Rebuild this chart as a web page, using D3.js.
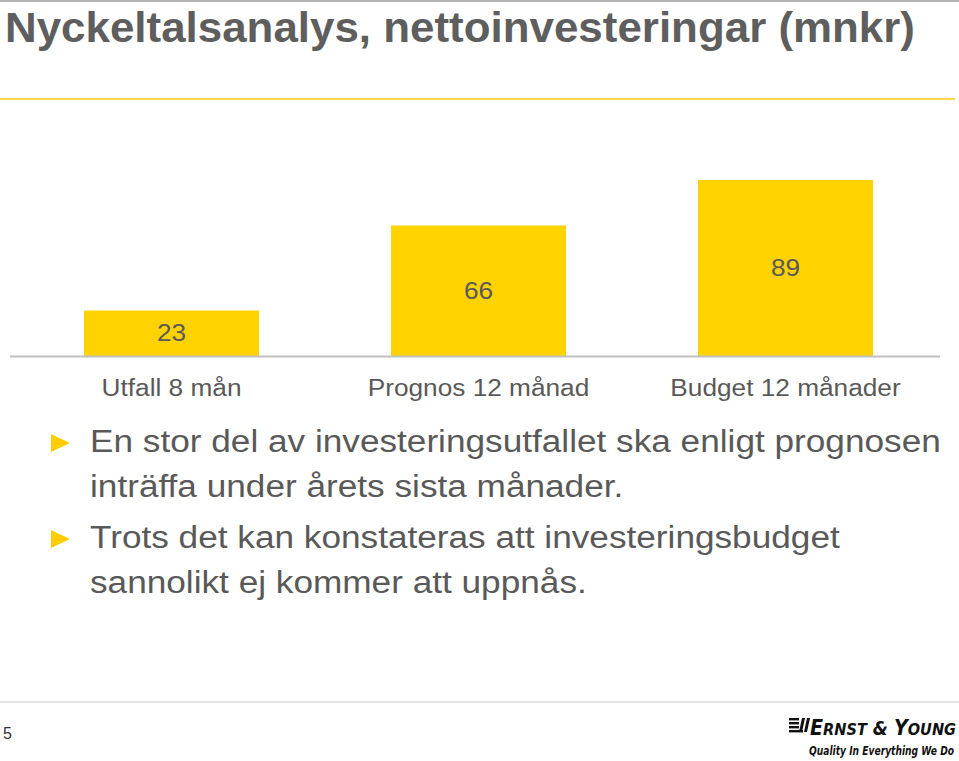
<!DOCTYPE html>
<html>
<head>
<meta charset="utf-8">
<script src="https://cdn.jsdelivr.net/npm/d3@7"></script>
<style>
  body { margin: 0; background: #fff; }
  svg { display: block; font-family: 'Liberation Sans', Arial, sans-serif; }
</style>
</head>
<body>
<svg id="chart"></svg>
<script>
const categories = ['Utfall 8 mån', 'Prognos 12 månad', 'Budget 12 månader']
const values = [23, 66, 89]
const title = 'Nyckeltalsanalys, nettoinvesteringar (mnkr)'
const bullets = [
  ['En stor del av investeringsutfallet ska enligt prognosen', 'inträffa under årets sista månader.'],
  ['Trots det kan konstateras att investeringsbudget', 'sannolikt ej kommer att uppnås.']
]
const pageNumber = '5'

const width = 959
const height = 761
const grey = '#595959'
const yellow = '#FFD200'
// the slide text is a little wider than the font's natural width
const widen = 1.14

const svg = d3.select('#chart').attr('width', width).attr('height', height)

const stretch = (sel, k) => sel.each(function () {
  const w = this.getComputedTextLength()
  d3.select(this).attr('textLength', w * k).attr('lengthAdjust', 'spacingAndGlyphs')
})

// header
svg.append('line')
  .attr('x1', 0).attr('x2', width).attr('y1', 1).attr('y2', 1)
  .attr('stroke', '#9a9a9a').attr('stroke-width', 1.5)
svg.append('text')
  .attr('x', 5).attr('y', 42)
  .attr('font-weight', 'bold')
  .attr('font-size', 42)
  .attr('textLength', 910)
  .attr('lengthAdjust', 'spacingAndGlyphs')
  .attr('fill', '#5e5e5e')
  .text(title)
svg.append('line')
  .attr('x1', 0).attr('x2', 955).attr('y1', 99).attr('y2', 99)
  .attr('stroke', '#FFD84A').attr('stroke-width', 2)

// bars
const x = d3.scaleBand()
  .domain(categories)
  .range([18, 939])
  .paddingInner(0.43)
  .paddingOuter(0.215)
const y = d3.scaleLinear().domain([0, 89]).range([356, 180])

const g = svg.append('g')
g.selectAll('.bar')
  .data(values)
  .enter()
  .append('rect')
  .attr('class', 'bar')
  .attr('x', (d, i) => x(categories[i]))
  .attr('width', x.bandwidth())
  .attr('y', d => y(d))
  .attr('height', d => y(0) - y(d))
  .attr('fill', yellow)
g.selectAll('.val')
  .data(values)
  .enter()
  .append('text')
  .attr('class', 'val')
  .attr('x', (d, i) => x(categories[i]) + x.bandwidth() / 2)
  .attr('y', d => (y(d) + y(0)) / 2)
  .attr('dy', '0.35em')
  .attr('text-anchor', 'middle')
  .attr('font-size', 23)
  .attr('fill', grey)
  .text(d => d)
  .call(stretch, widen)

const axis = g.append('g')
  .attr('transform', `translate(0,${y(0)})`)
  .call(d3.axisBottom(x).tickSize(0).tickPadding(24))
axis.select('.domain')
  .attr('d', 'M10,0.5H940')
  .attr('stroke', '#bfbfbf')
  .attr('stroke-width', 2)
axis.selectAll('text')
  .attr('font-size', 23)
  .attr('font-family', "'Liberation Sans', Arial, sans-serif")
  .attr('fill', grey)
  .call(stretch, widen)

// bullets
const lineH = 45
let by = 452
bullets.forEach(lines => {
  svg.append('path')
    .attr('d', `M51,${by - 18}L70,${by - 9}L51,${by}Z`)
    .attr('fill', '#FFCC00')
  lines.forEach(t => {
    svg.append('text')
      .attr('x', 90).attr('y', by)
      .attr('font-size', 31)
      .attr('fill', grey)
      .text(t)
      .call(stretch, 1.135)
    by += lineH
  })
  by += 6
})

// footer
svg.append('line')
  .attr('x1', 0).attr('x2', width).attr('y1', 702).attr('y2', 702)
  .attr('stroke', '#c8c8c8').attr('stroke-width', 1)
svg.append('text')
  .attr('x', 3).attr('y', 739)
  .attr('font-size', 16)
  .attr('fill', '#333')
  .text(pageNumber)

const logo = svg.append('g').attr('transform', 'translate(789,718)')
// stacked-bars mark
;[[0, 0, 10], [0, 4, 10], [0, 8, 10], [0, 12, 14]].forEach(([lx, ly, lw]) => {
  logo.append('rect').attr('x', lx).attr('y', ly).attr('width', lw).attr('height', 2.4).attr('fill', '#111')
})
logo.append('path').attr('d', 'M13,0L16,0L13,14L10,14Z').attr('fill', '#111')
logo.append('path').attr('d', 'M18,0L21,0L18,14L15,14Z').attr('fill', '#111')
const brand = logo.append('text')
  .attr('x', 21).attr('y', 17)
  .attr('font-style', 'italic')
  .attr('font-weight', 'bold')
  .attr('font-family', "'DejaVu Sans Condensed', 'Liberation Sans', sans-serif")
  .attr('fill', '#111')
  .attr('textLength', 146)
  .attr('lengthAdjust', 'spacingAndGlyphs')
;[['E', 21], ['RNST', 16], [' & ', 19], ['Y', 21], ['OUNG', 16]].forEach(([t, s]) => {
  brand.append('tspan').attr('font-size', s).text(t)
})
// tagline: small font stretched vertically so it stays inside the page
logo.append('g')
  .attr('transform', 'translate(20,37) scale(1,1.25)')
  .append('text')
  .attr('font-style', 'italic')
  .attr('font-weight', 'bold')
  .attr('font-size', 9.5)
  .attr('font-family', "'DejaVu Sans Condensed', 'Liberation Sans', sans-serif")
  .attr('fill', '#111')
  .attr('textLength', 145)
  .attr('lengthAdjust', 'spacingAndGlyphs')
  .text('Quality In Everything We Do')
</script>
</body>
</html>
